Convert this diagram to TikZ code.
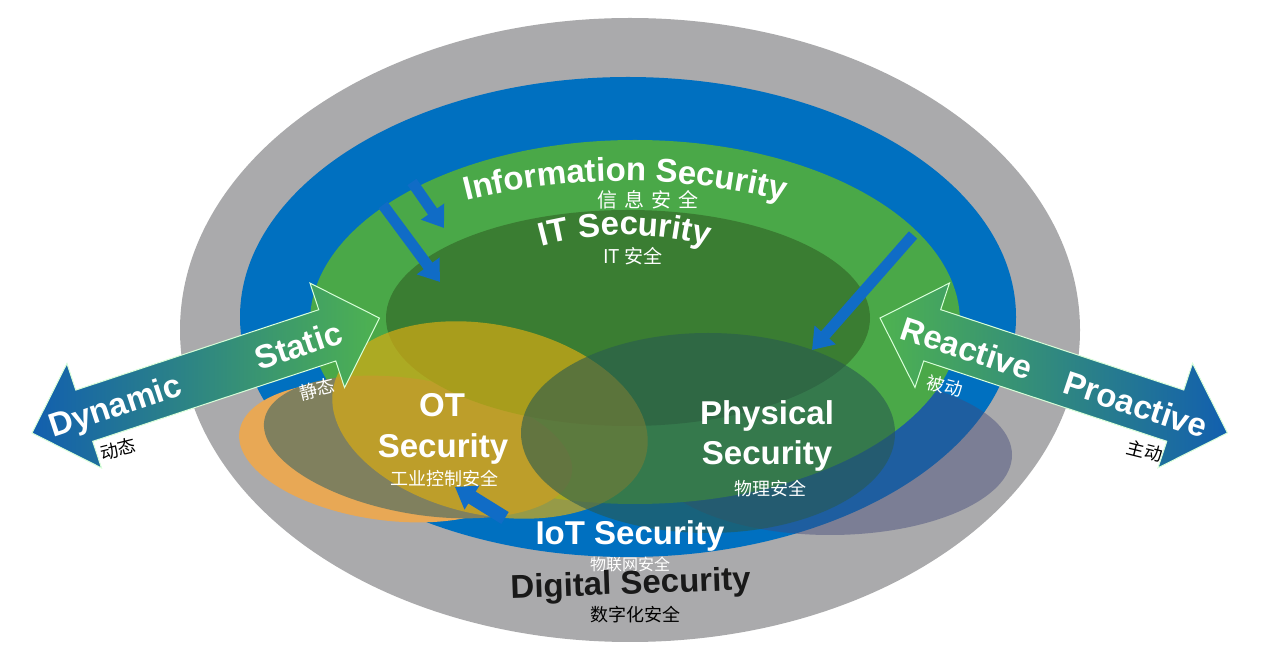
\documentclass[tikz,border=0pt]{standalone}
\usepackage{fontspec}
\setmainfont{Liberation Sans}
\newfontfamily\cjk{Noto Sans CJK SC}
\usepackage{tikz}
\usetikzlibrary{
    arrows.meta,
    decorations.text
}
\definecolor{ringgray}{RGB}{170,170,172}
\definecolor{ringblue}{RGB}{0,112,192}
\definecolor{infogreen}{RGB}{74,168,72}
\definecolor{itgreen}{RGB}{58,125,50}
\definecolor{otorange}{RGB}{232,168,85}
\definecolor{otolive}{RGB}{128,128,94}
\definecolor{otyellow}{RGB}{215,172,20}
\definecolor{physteal}{RGB}{40,90,80}
\definecolor{slate}{RGB}{67,74,123}
\definecolor{arrowblue}{RGB}{18,95,175}
\definecolor{arrowgreen}{RGB}{78,178,80}
\definecolor{feedblue}{RGB}{16,108,198}
\newcommand{\biglbl}{\bfseries\fontsize{33}{36}\selectfont}
\tikzset{
    line cap=round,
    line join=round,
    lbl/.style={
        font=\biglbl,
        text=white,
        inner sep=0pt,
        anchor=base
    },
    arrowlbl/.style={
        font=\biglbl,
        text=white,
        inner sep=0pt,
        text height=24pt,
        text depth=0pt
    },
    zh/.style={
        font=\cjk\fontsize{18}{20}\selectfont,
        text=white,
        inner sep=0pt
    },
    feed/.style={
        draw=feedblue,
        line width=11pt,
        line cap=butt,
        -{Triangle[width=27pt, length=20pt]}
    },
    bigarrow/.style={
        draw=green!15!white,
        line width=1pt
    },
    arctext/.style={
        decorate,
        decoration={
            text along path,
            text align=center,
            text color=white,
            text={|\biglbl|#1}
        }
    }
}

\begin{document}
\begin{tikzpicture}[x=1pt, y=1pt]
\useasboundingbox (0,0) rectangle (1280,653);
\fill[white] (0,0) rectangle (1280,653);

% rings
\fill[ringgray] (630,323) ellipse (450pt and 312pt);
\fill[ringblue] (628,336) ellipse (388pt and 240pt);
\fill[slate, opacity=0.45] (830,198) ellipse (182pt and 80pt);
\fill[infogreen] (635,331) ellipse (325pt and 182pt);
\fill[otorange, rotate around={-8:(385,201)}] (385,201) ellipse (147pt and 68pt);
\fill[otolive, rotate around={-10:(418,206)}] (418,206) ellipse (156pt and 67pt);
\fill[itgreen] (628,335) ellipse (242pt and 108pt);
\fill[otyellow, opacity=0.7, rotate around={-12:(490,233)}] (490,233) ellipse (160pt and 95pt);
\fill[physteal, opacity=0.6] (708,220) ellipse (187pt and 100pt);

% feeding arrows
\coordinate (infoA) at (383,448);
\coordinate (itA) at (440,371);
\coordinate (infoB) at (412,471);
\coordinate (itB) at (444,425);
\coordinate (infoC) at (913,418);
\coordinate (physC) at (812,303);
\coordinate (iotD) at (505,135);
\coordinate (otD) at (455,166);
\draw[feed] (infoA) -- (itA);
\draw[feed] (infoB) -- (itB);
\draw[feed] (infoC) -- (physC);
\draw[feed, line width=14pt] (iotD) -- (otD);

% Static / Dynamic
\begin{scope}[shift={(32,220)}, rotate=18.3]
    \draw[bigarrow, left color=arrowblue, right color=arrowgreen]
        (0,0) -- (55,55) -- (55,27) -- (311,27) -- (311,55) -- (366,0)
        -- (311,-55) -- (311,-27) -- (55,-27) -- (55,-55) -- cycle;
\end{scope}

% Reactive / Proactive
\begin{scope}[shift={(880,335)}, rotate=-18.3]
    \draw[bigarrow, left color=arrowgreen, right color=arrowblue]
        (0,0) -- (55,55) -- (55,27) -- (311,27) -- (311,55) -- (366,0)
        -- (311,-55) -- (311,-27) -- (55,-27) -- (55,-55) -- cycle;
\end{scope}

% labels
\path[arctext=Information Security] (625,-178) ++(110:650pt) arc[start angle=110, end angle=70, radius=650pt];
\node[zh, font=\cjk\fontsize{20}{22}\selectfont] (infozh) at (648,453) {信\hspace{7pt}息\hspace{7pt}安\hspace{7pt}全};
\path[arctext=IT Security] (625,98) ++(110:320pt) arc[start angle=110, end angle=70, radius=320pt];
\node[zh, font=\cjk\fontsize{19}{21}\selectfont] (itzh) at (633,397) {IT 安全};

\node[lbl] (ot) at (442,236) {OT};
\node[lbl] (otsec) at (443,195) {Security};
\node[zh] (otzh) at (444,174) {工业控制安全};

\node[lbl] (phys) at (767,228) {Physical};
\node[lbl] (physsec) at (767,188) {Security};
\node[zh] (physzh) at (770,164) {物理安全};

\node[lbl] (iot) at (630,108) {IoT Security};
\node[zh, font=\cjk\fontsize{16}{18}\selectfont] (iotzh) at (630,89) {物联网安全};
\node[lbl, text=black!90, rotate=2] (digital) at (631,59) {Digital Security};
\node[zh, text=black] (digitalzh) at (635,38) {数字化安全};

\node[arrowlbl, rotate=18.3] (dynamic) at (115,248) {Dynamic};
\node[arrowlbl, rotate=18.3] (static) at (298,308) {Static};
\node[zh, text=black, rotate=14] (dynamiczh) at (118,204) {动态};
\node[zh, rotate=14] (staticzh) at (317,264) {静态};

\node[arrowlbl, rotate=-18.3] (reactive) at (967,305) {Reactive};
\node[arrowlbl, rotate=-18.3] (proactive) at (1136,249) {Proactive};
\node[zh, rotate=-14] (reactivezh) at (945,267) {被动};
\node[zh, text=black, rotate=-14] (proactivezh) at (1145,202) {主动};
\end{tikzpicture}
\end{document}
